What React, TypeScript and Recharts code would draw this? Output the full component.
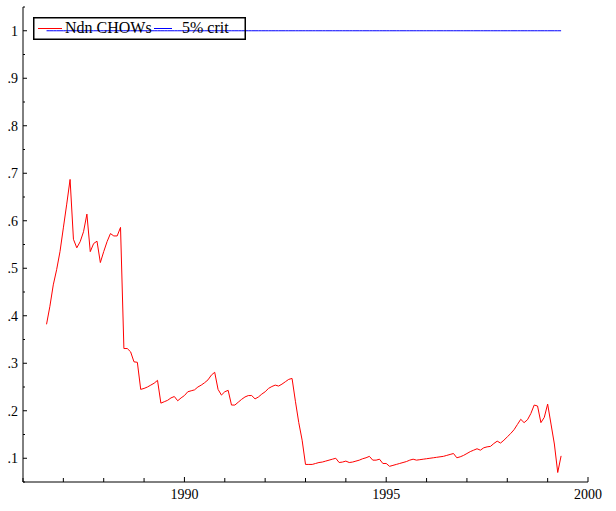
import React from "react";
import { LineChart, Line, XAxis, YAxis, Legend } from "recharts";

// monthly recursive Chow statistics, first obs Aug 1986
const START_YEAR = 1986;
const START_MONTH = 7;

const chowValues = [
  0.382, 0.42, 0.465, 0.497, 0.535, 0.585, 0.635, 0.687, 0.561, 0.543, 0.556,
  0.577, 0.614, 0.535, 0.552, 0.557, 0.512, 0.535, 0.556, 0.573, 0.568, 0.568,
  0.586,
  0.331, 0.331, 0.324, 0.303, 0.302, 0.245, 0.247, 0.25, 0.254, 0.258, 0.264,
  0.216, 0.219, 0.222, 0.227, 0.23, 0.221, 0.227, 0.232, 0.24, 0.242, 0.244,
  0.25, 0.254, 0.259, 0.265, 0.275, 0.281, 0.245, 0.233, 0.24, 0.243, 0.212,
  0.212, 0.218, 0.224, 0.229, 0.232, 0.232, 0.225, 0.229, 0.235, 0.24, 0.247,
  0.251, 0.254, 0.252, 0.256, 0.261, 0.266, 0.268, 0.22, 0.175,
  0.138, 0.087, 0.087, 0.087, 0.089, 0.091, 0.092, 0.094, 0.096, 0.098, 0.1,
  0.091, 0.092, 0.094, 0.091, 0.092, 0.094, 0.096, 0.099, 0.101, 0.104, 0.096,
  0.096, 0.098, 0.089, 0.089, 0.083, 0.085, 0.087, 0.089, 0.091, 0.093, 0.096,
  0.098, 0.096, 0.097, 0.098, 0.099, 0.1, 0.101, 0.102, 0.103, 0.104, 0.106,
  0.108, 0.11, 0.101, 0.103, 0.106, 0.11, 0.114, 0.117, 0.12, 0.117, 0.122,
  0.124, 0.125, 0.131, 0.136, 0.132,
  0.138, 0.145, 0.152, 0.16, 0.171, 0.182, 0.175, 0.181, 0.194, 0.212, 0.21,
  0.175, 0.186, 0.214, 0.172, 0.13, 0.07, 0.105,
];

const CRIT_5 = 1;

const xTicks = [1986, 1987, 1988, 1989, 1990, 1991, 1992, 1993, 1994, 1995, 1996, 1997, 1998, 1999, 2000];
const xLabelled = [1990, 1995, 2000];
const yTicks = [0.05, 0.1, 0.15, 0.2, 0.25, 0.3, 0.35, 0.4, 0.45, 0.5, 0.55, 0.6, 0.65, 0.7, 0.75, 0.8, 0.85, 0.9, 0.95, 1, 1.05];
const yLabels: Record<string, string> = {
  "0.1": ".1", "0.2": ".2", "0.3": ".3", "0.4": ".4", "0.5": ".5",
  "0.6": ".6", "0.7": ".7", "0.8": ".8", "0.9": ".9", "1": "1",
};

const data = chowValues.map((v, i) => ({
  t: START_YEAR + (START_MONTH + i) / 12,
  chow: v,
  crit: CRIT_5,
}));

const FONT = '"Liberation Serif", "Times New Roman", serif';

const XTick = (props: any) => {
  const { x, y, payload } = props;
  const major = xLabelled.includes(payload.value);
  return (
    <g>
      <line x1={x} y1={y} x2={x} y2={y - (major ? 5 : 4)} stroke="#000" strokeWidth={1} />
      {major && (
        <text x={x} y={y + 17} textAnchor="middle" fontSize={14} fontFamily={FONT} fill="#000">
          {payload.value}
        </text>
      )}
    </g>
  );
};

const YTick = (props: any) => {
  const { x, y, payload } = props;
  const label = yLabels[String(Math.round(payload.value * 100) / 100)];
  return (
    <g>
      <line x1={x} y1={y} x2={x + (label ? 4 : 2)} y2={y} stroke="#000" strokeWidth={1} />
      {label && (
        <text x={x - 5} y={y + 5} textAnchor="end" fontSize={14} fontFamily={FONT} fill="#000">
          {label}
        </text>
      )}
    </g>
  );
};

const LegendBox = () => (
  <svg width={213} height={23} style={{ display: "block" }}>
    <rect x={0.75} y={0.75} width={211.5} height={21.5} fill="none" stroke="#000" strokeWidth={1.5} />
    <line x1={5} y1={11.5} x2={29} y2={11.5} stroke="#ff0000" strokeWidth={1} />
    <text x={32} y={16} fontSize={16} fontFamily={FONT} fill="#000">Ndn CHOWs</text>
    <line x1={121} y1={11.5} x2={139} y2={11.5} stroke="#0000ff" strokeWidth={1} />
    <text x={149} y={16} fontSize={16} fontFamily={FONT} fill="#000">5% crit</text>
  </svg>
);

export default function App() {
  return (
    <div style={{ position: "absolute", left: 0, top: 0, background: "#fff" }}>
      <LineChart
        width={616}
        height={511}
        data={data}
        margin={{ top: 7, right: 28, bottom: 0, left: 0 }}
      >
        <XAxis
          dataKey="t"
          type="number"
          domain={[1986, 2000]}
          ticks={xTicks}
          interval={0}
          allowDataOverflow
          height={29}
          tickSize={0}
          tickMargin={0}
          tick={<XTick />}
          axisLine={{ stroke: "#000", strokeWidth: 1 }}
        />
        <YAxis
          type="number"
          domain={[0.05, 1.05]}
          ticks={yTicks}
          interval={0}
          allowDataOverflow
          width={23}
          tickSize={0}
          tickMargin={0}
          tick={<YTick />}
          axisLine={{ stroke: "#000", strokeWidth: 1 }}
        />
        <Legend
          layout="horizontal"
          verticalAlign="middle"
          align="center"
          wrapperStyle={{ left: 33, top: 17, width: 213, height: 23 }}
          content={() => <LegendBox />}
        />
        <Line
          dataKey="crit"
          stroke="#0000ff"
          strokeWidth={1}
          dot={false}
          isAnimationActive={false}
          type="linear"
        />
        <Line
          dataKey="chow"
          stroke="#ff0000"
          strokeWidth={1}
          dot={false}
          isAnimationActive={false}
          type="linear"
        />
      </LineChart>
    </div>
  );
}
